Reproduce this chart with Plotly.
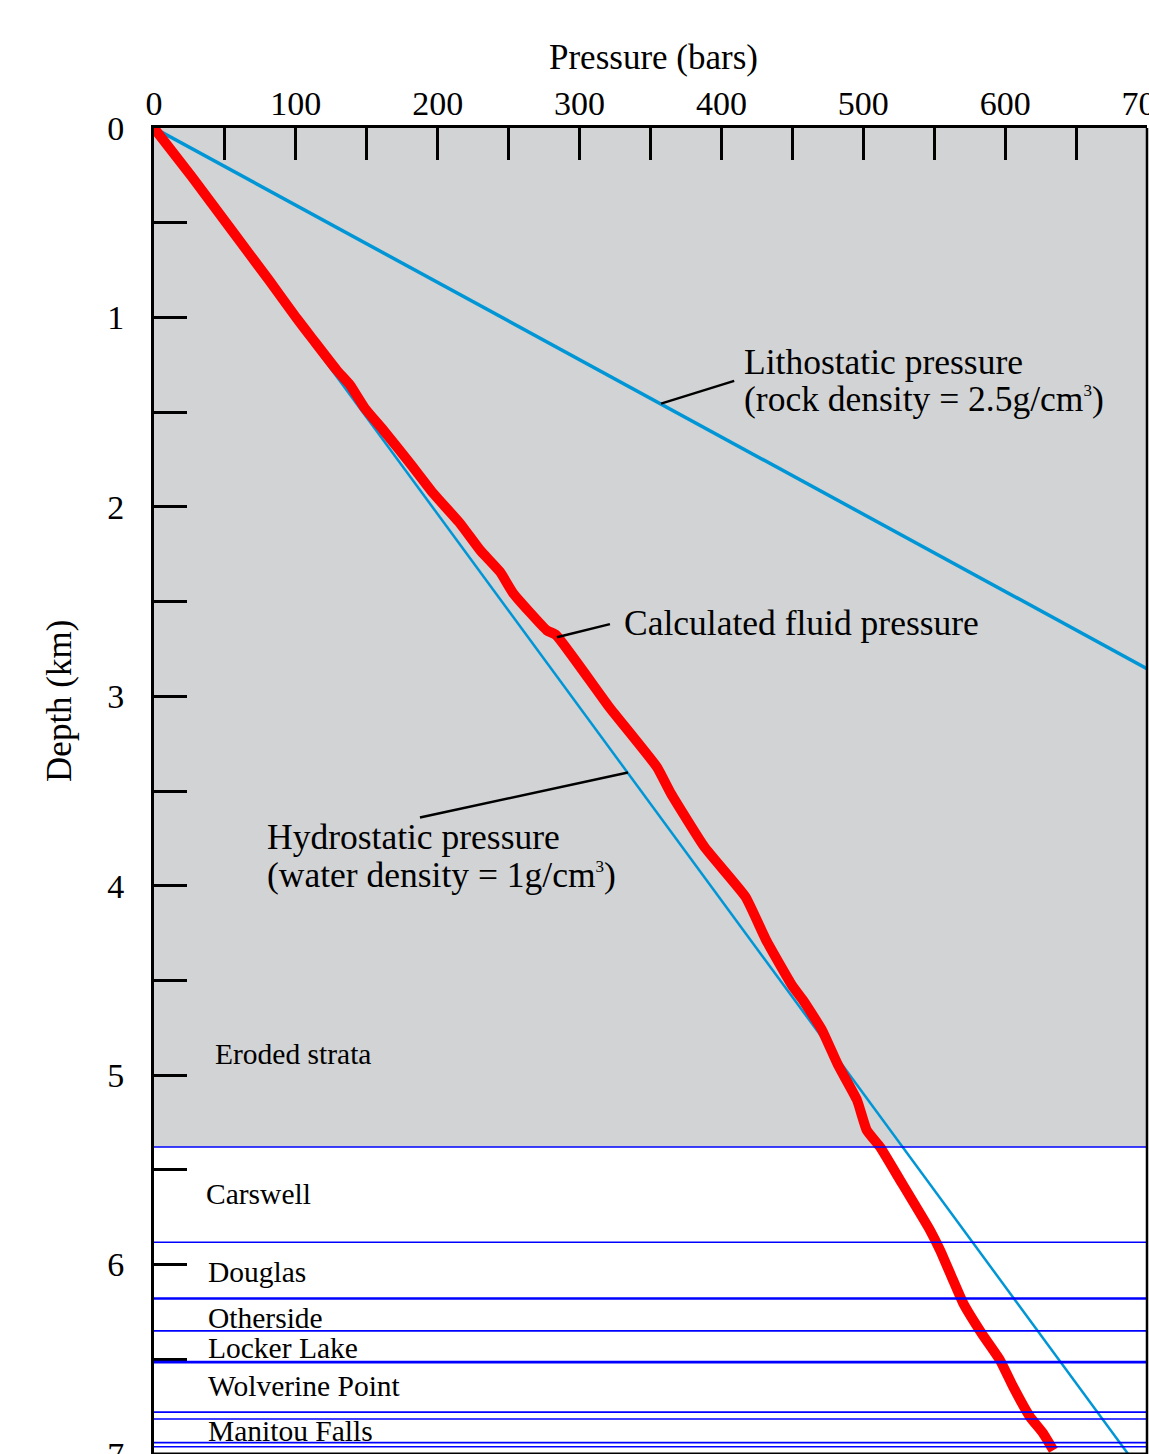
import plotly.graph_objects as go

# Calculated fluid pressure profile (pressure in bars vs depth in km)
fluid_depth_km = [0.0, 0.259, 0.803, 1.005, 1.119, 1.278, 1.357, 1.480, 1.594,
                  1.770, 1.929, 2.087, 2.228, 2.343, 2.457, 2.651, 2.677, 3.055, 3.372,
                  3.513, 3.795, 4.059, 4.287, 4.525, 4.604, 4.762, 4.947, 5.132, 5.290,
                  5.379, 5.554, 5.818, 5.924, 6.065, 6.205, 6.364, 6.505, 6.646, 6.804,
                  6.892, 6.980]
fluid_pressure_bar = [0.0, 26.8, 81.0, 100.6, 112.3, 128.8, 138.2, 148.7, 161.6,
                      180.5, 196.9, 215.7, 229.8, 243.9, 253.3, 276.8, 283.5, 320.7, 354.4,
                      364.4, 388.0, 417.0, 431.5, 449.7, 457.5, 470.9, 482.2, 495.6, 502.4,
                      511.8, 525.9, 547.0, 554.1, 562.3, 570.5, 583.5, 596.4, 605.7, 617.5,
                      626.9, 634.0]

# Reference gradients (end points of straight lines)
hydro_depth_km = [0.0, 7.0]
hydro_pressure_bar = [0.0, 686.7]      # water, 1 g/cm3
litho_depth_km = [0.0, 7.0]
litho_pressure_bar = [0.0, 1716.75]    # rock, 2.5 g/cm3

# Stratigraphy
eroded_base_km = 5.379
strata_boundaries_km = [5.379, 5.882, 6.179, 6.350, 6.515, 6.779, 6.815, 6.940, 6.962]
strata_line_widths = [1.6, 1.6, 2.6, 1.6, 2.6, 1.6, 1.6, 1.6, 1.6]
strata_names = ["Eroded strata", "Carswell", "Douglas", "Otherside", "Locker Lake",
                "Wolverine Point", "Manitou Falls"]
strata_label_pressure = [41.8, 35.5, 36.9, 36.9, 36.9, 36.9, 36.9]
strata_label_depth = [4.89, 5.629, 6.040, 6.280, 6.438, 6.643, 6.881]

x_tick_vals = [0, 100, 200, 300, 400, 500, 600, 700]
y_tick_vals = [0, 1, 2, 3, 4, 5, 6, 7]

SERIF = "Liberation Serif, Times New Roman, serif"
LINE_BLUE = "rgb(0,150,214)"
CUBED = "<sup><span style='font-size:17px'>3</span></sup>"

fig = go.Figure()

fig.add_trace(go.Scatter(x=litho_pressure_bar, y=litho_depth_km, mode="lines",
                         line=dict(color=LINE_BLUE, width=3.5), hoverinfo="skip"))
fig.add_trace(go.Scatter(x=hydro_pressure_bar, y=hydro_depth_km, mode="lines",
                         line=dict(color=LINE_BLUE, width=2.5), hoverinfo="skip"))
fig.add_trace(go.Scatter(x=fluid_pressure_bar, y=fluid_depth_km, mode="lines",
                         line=dict(color="rgb(255,0,0)", width=10, shape="spline",
                                   smoothing=0.4),
                         hoverinfo="skip"))

shapes = []
# grey band for the eroded section
shapes.append(dict(type="rect", xref="paper", x0=0, x1=1, yref="y", y0=0, y1=eroded_base_km,
                   fillcolor="#d1d3d4", line=dict(width=0), layer="below"))
# formation boundaries
for depth, w in zip(strata_boundaries_km, strata_line_widths):
    shapes.append(dict(type="line", xref="paper", x0=0, x1=1, yref="y", y0=depth, y1=depth,
                       line=dict(color="rgb(0,0,255)", width=w), layer="above"))
# right and bottom frame
shapes.append(dict(type="line", xref="paper", x0=1, x1=1, yref="paper", y0=0, y1=1,
                   line=dict(color="black", width=2.5)))
shapes.append(dict(type="line", xref="paper", x0=0, x1=1, yref="paper", y0=0, y1=0,
                   line=dict(color="black", width=3)))

# leader lines from labels to curves
leaders = [
    ((357.4, 1.455), (409.0, 1.335)),   # lithostatic
    ((284.0, 2.688), (321.4, 2.619)),   # calculated
    ((334.1, 3.402), (187.5, 3.640)),   # hydrostatic
]
for (xa, ya), (xb, yb) in leaders:
    shapes.append(dict(type="line", xref="x", yref="y", x0=xa, y0=ya, x1=xb, y1=yb,
                       line=dict(color="black", width=2.5)))

annotations = []
def label(text, x, y, size=35.5, xanchor="left"):
    annotations.append(dict(text=text, x=x, y=y, xref="x", yref="y", showarrow=False,
                            xanchor=xanchor, yanchor="middle",
                            font=dict(family=SERIF, size=size, color="black")))

label("Lithostatic pressure", 414.5, 1.233)
label("(rock density = 2.5g/cm" + CUBED + ")", 414.5, 1.430)
label("Calculated fluid pressure", 330.0, 2.614)
label("Hydrostatic pressure", 78.3, 3.744)
label("(water density = 1g/cm" + CUBED + ")", 78.3, 3.943)
for name, px, d in zip(strata_names, strata_label_pressure, strata_label_depth):
    label(name, px, d, size=29.5)

annotations.append(dict(text="Pressure (bars)", x=0.5035, y=1.0528, xref="paper", yref="paper",
                        showarrow=False, xanchor="center", yanchor="middle",
                        font=dict(family=SERIF, size=35, color="black")))
annotations.append(dict(text="Depth (km)", x=-0.0947, y=0.5679, xref="paper", yref="paper",
                        showarrow=False, xanchor="center", yanchor="middle", textangle=-90,
                        font=dict(family=SERIF, size=35, color="black")))

fig.update_layout(
    width=1149, height=1454,
    margin=dict(l=154, r=2, t=128, b=0, autoexpand=False),
    paper_bgcolor="white", plot_bgcolor="white",
    showlegend=False,
    shapes=shapes, annotations=annotations,
    xaxis=dict(range=[0, 700], side="top", tickvals=x_tick_vals,
               ticktext=[str(v) for v in x_tick_vals],
               ticks="inside", ticklen=32, tickwidth=3, tickcolor="black",
               minor=dict(dtick=50, tick0=0, ticks="inside", ticklen=32, tickwidth=3,
                          tickcolor="black"),
               showline=True, linecolor="black", linewidth=3,
               showgrid=False, zeroline=False, ticklabelstandoff=-4,
               ticklabeloverflow="allow",
               tickfont=dict(family=SERIF, size=34, color="black")),
    yaxis=dict(range=[7, 0], tickvals=y_tick_vals,
               ticktext=[str(v) for v in y_tick_vals],
               ticks="inside", ticklen=33, tickwidth=3, tickcolor="black",
               minor=dict(dtick=0.5, tick0=0, ticks="inside", ticklen=33, tickwidth=3,
                          tickcolor="black"),
               showline=True, linecolor="black", linewidth=3,
               showgrid=False, zeroline=False, ticklabelstandoff=20,
               ticklabeloverflow="allow",
               tickfont=dict(family=SERIF, size=34, color="black")),
)

fig.write_html("out.html")
